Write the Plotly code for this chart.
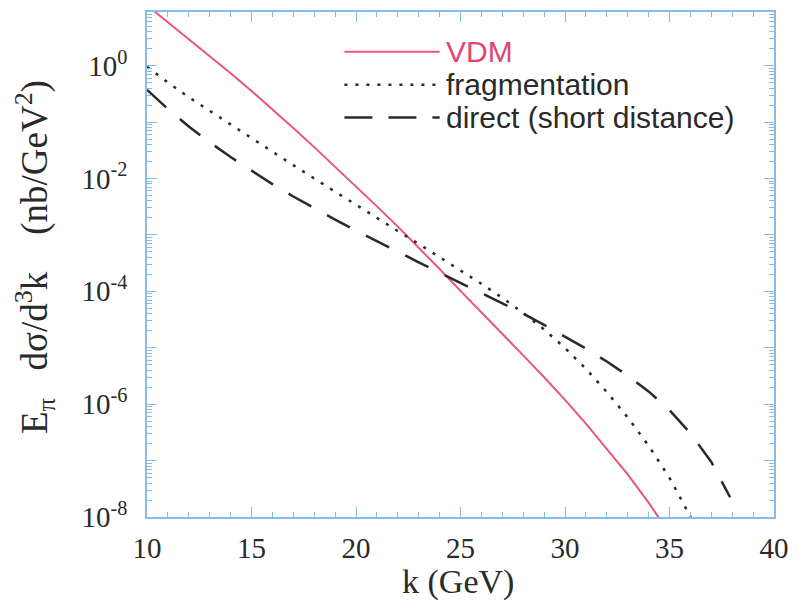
import plotly.graph_objects as go

# ---- data ----
k_vdm = [10, 11, 12, 13, 14, 15, 16, 17, 18, 19, 20, 21, 22, 23, 24, 25,
         26, 27, 28, 29, 30, 31, 32, 33, 34, 35]
vdm = [11.7, 5.89, 2.99, 1.50, 0.733, 0.355, 0.168, 0.0785, 0.0359, 0.0162,
       7.24e-3, 3.20e-3, 1.40e-3, 5.96e-4, 2.48e-4, 1.02e-4, 4.27e-5, 1.78e-5,
       7.33e-6, 2.99e-6, 1.19e-6, 4.52e-7, 1.64e-7, 5.69e-8, 1.80e-8, 5.07e-9]

k_frag = [10, 11, 12, 13, 14, 15, 16, 17, 18, 19, 20, 21, 22, 23, 24, 25,
          26, 27, 28, 29, 30, 31, 32, 33, 34, 35, 36, 36.3]
frag = [0.955, 0.501, 0.275, 0.157, 0.0902, 0.0519, 0.0299, 0.0172, 0.0100,
        5.82e-3, 3.39e-3, 2.00e-3, 1.17e-3, 6.92e-4, 4.07e-4, 2.37e-4, 1.36e-4,
        7.67e-5, 4.12e-5, 2.11e-5, 9.89e-6, 4.22e-6, 1.64e-6, 5.82e-7, 1.84e-7,
        4.95e-8, 1.04e-8, 6.3e-9]

k_dir = [10, 11, 12, 13, 14, 15, 16, 17, 18, 19, 20, 21, 22, 23, 24, 25,
         26, 27, 28, 29, 30, 31, 32, 33, 34, 35, 36, 37, 37.9]
direct = [0.372, 0.170, 0.0832, 0.0437, 0.0240, 0.0136, 7.94e-3, 4.79e-3,
          2.95e-3, 1.86e-3, 1.19e-3, 7.67e-4, 5.01e-4, 3.27e-4, 2.14e-4,
          1.41e-4, 9.44e-5, 6.24e-5, 4.03e-5, 2.54e-5, 1.58e-5, 9.66e-6,
          5.69e-6, 3.20e-6, 1.68e-6, 7.85e-7, 3.05e-7, 9.44e-8, 2.24e-8]

series_names = ["VDM", "fragmentation", "direct (short distance)"]
x_ticks = [10, 15, 20, 25, 30, 35, 40]
y_exponents = list(range(-8, 1))
x_title = "k (GeV)"
y_title = ("E<sub>π</sub>\u00a0\u00a0 dσ/d<sup>3</sup>k\u00a0\u00a0\u00a0 "
           "(nb/GeV<sup>2</sup>)")

# ---- styling ----
RED = "#e9567c"
RED_TEXT = "#e0466f"
DARK = "#2a2a2a"
AXIS = "#86bbea"
SERIF = "Liberation Serif, Times New Roman, serif"
SANS = "Liberation Sans, Arial, sans-serif"

fig = go.Figure()
fig.add_trace(go.Scatter(x=k_vdm, y=vdm, mode="lines", name=series_names[0],
                         line=dict(color=RED, width=2)))
fig.add_trace(go.Scatter(x=k_frag, y=frag, mode="lines", name=series_names[1],
                         line=dict(color=DARK, width=2.5, dash="3px,8px")))
fig.add_trace(go.Scatter(x=k_dir, y=direct, mode="lines", name=series_names[2],
                         line=dict(color=DARK, width=2.5, dash="26px,18px")))

ytickvals = [10.0 ** e for e in y_exponents]
yticktext = [("10<sup>%d</sup>" % e) if e % 2 == 0 else "" for e in y_exponents]
yminor = [m * 10.0 ** e for e in range(-9, 1) for m in range(2, 10)]

fig.update_xaxes(
    range=[10, 40], tickvals=x_ticks, ticktext=[str(v) for v in x_ticks],
    ticks="inside", ticklen=10, tickwidth=1.2, tickcolor=AXIS,
    minor=dict(ticks="inside", ticklen=5, tickwidth=1, tickcolor=AXIS, dtick=1),
    showline=True, linecolor=AXIS, linewidth=1.5, mirror="ticks",
    showgrid=False, zeroline=False,
    tickfont=dict(family=SERIF, size=29, color=DARK), ticklabelstandoff=4,
)
fig.update_yaxes(
    type="log", range=[-8, 0.95], tickvals=ytickvals, ticktext=yticktext,
    ticks="inside", ticklen=10, tickwidth=1.2, tickcolor=AXIS,
    minor=dict(ticks="inside", ticklen=5, tickwidth=1, tickcolor=AXIS,
               tickvals=yminor),
    showline=True, linecolor=AXIS, linewidth=1.5, mirror="ticks",
    showgrid=False, zeroline=False,
    tickfont=dict(family=SERIF, size=29, color=DARK), ticklabelstandoff=12,
)

# ---- pixel -> paper helpers ----
L, R, T, B = 147, 779, 10, 517
W, H = R - L, B - T
def px(x):
    return (x - L) / W
def py(y):
    return (B - y) / H

# axis titles
fig.add_annotation(xref="paper", yref="paper", x=px(460), y=py(582),
                   xanchor="center", yanchor="middle", showarrow=False,
                   text=x_title, font=dict(family=SERIF, size=34, color=DARK))
fig.add_annotation(xref="paper", yref="paper", x=px(34), y=py(256),
                   xanchor="center", yanchor="middle", showarrow=False,
                   textangle=-90, text=y_title,
                   font=dict(family=SERIF, size=37, color=DARK))

# hand-drawn legend
rows = [(50, RED, "solid", RED_TEXT), (83, DARK, "3px,8px", DARK),
        (116, DARK, "28px,16px", DARK)]
for (yy, col, dash, tcol), name in zip(rows, series_names):
    fig.add_shape(type="line", xref="paper", yref="paper",
                  x0=px(346), x1=px(442), y0=py(yy), y1=py(yy),
                  line=dict(color=col, width=2 if dash == "solid" else 2.5, dash=dash))
    fig.add_annotation(xref="paper", yref="paper", x=px(446), y=py(yy),
                       xanchor="left", yanchor="middle", showarrow=False,
                       text=name, font=dict(family=SANS, size=30, color=tcol))

fig.update_layout(
    width=799, height=609, showlegend=False,
    margin=dict(l=L, r=799 - R, t=T, b=609 - B),
    paper_bgcolor="white", plot_bgcolor="white",
)

fig.write_html("out.html")
